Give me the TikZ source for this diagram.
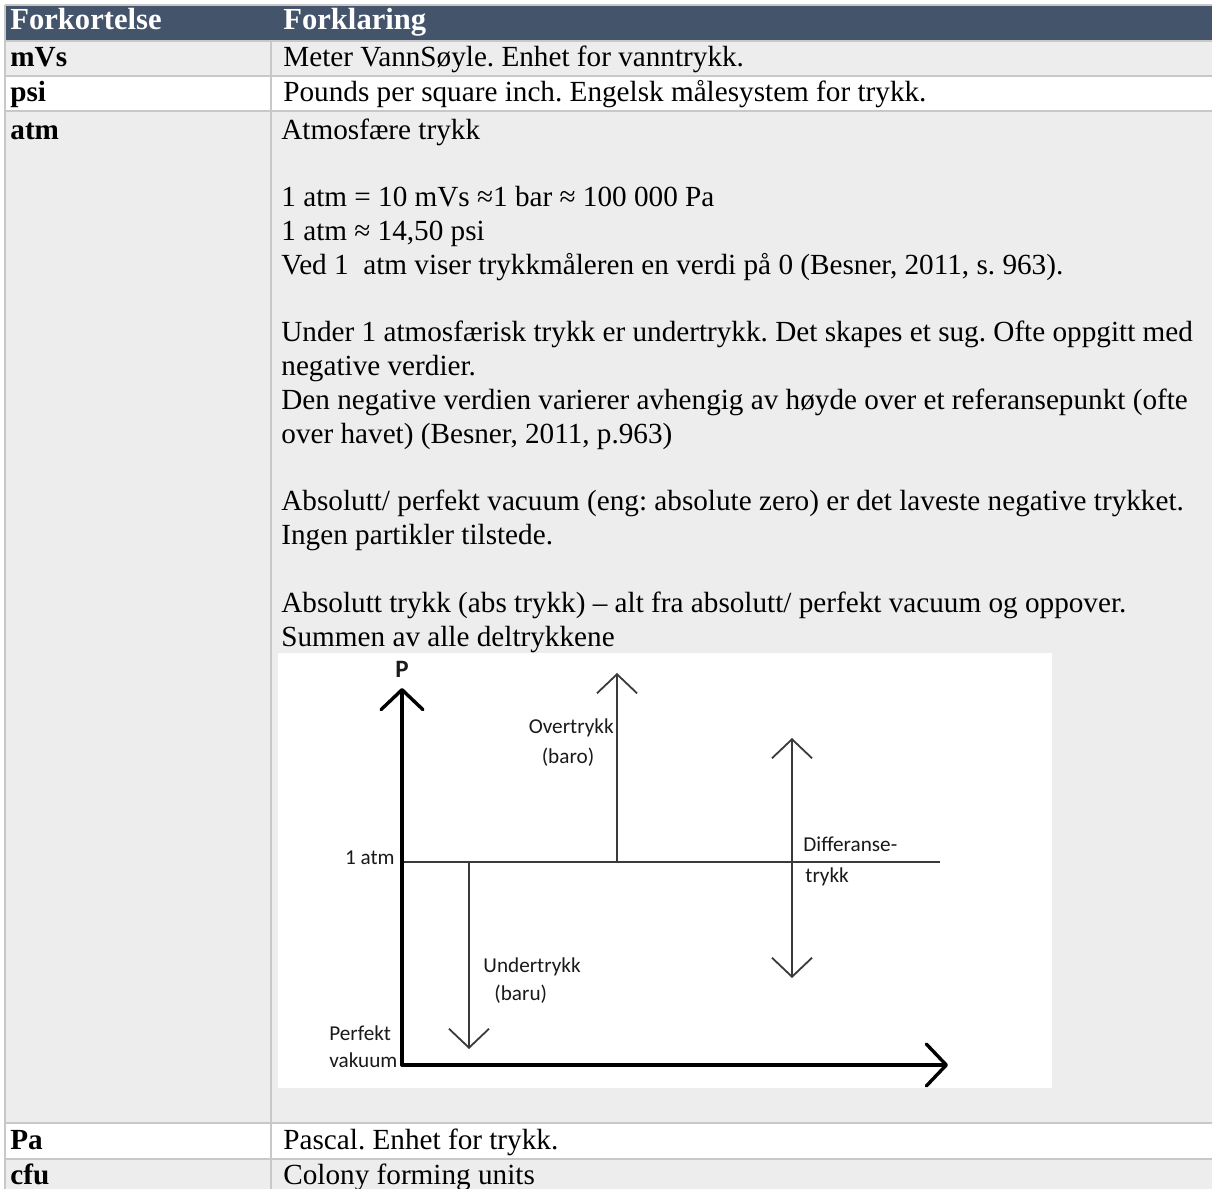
\documentclass[tikz,border=0pt]{standalone}
\usepackage{fontspec}
\setmainfont{Liberation Serif}
\newfontfamily\figfont{Carlito}
\usetikzlibrary{arrows.meta}
\definecolor{hodeblaa}{HTML}{44546A}
\definecolor{radgraa}{HTML}{EDEDED}
\definecolor{linjegraa}{HTML}{C8C8C8}
\definecolor{strek}{HTML}{3A3A3A}
\definecolor{figtekst}{HTML}{1A1A1A}
\frenchspacing
\begin{document}
\begin{tikzpicture}[x=0.5pt,y=-0.5pt]
% Stiler
\tikzstyle{rutenett}=[draw=linjegraa,line width=1pt]
\tikzstyle{hodetekst}=[anchor=base west,inner sep=0,text=white,font=\fontsize{15.3}{17.6}\selectfont\bfseries]
\tikzstyle{forkortelse}=[anchor=base west,inner sep=0,font=\fontsize{14.6}{16.8}\selectfont\bfseries]
\tikzstyle{tekst}=[anchor=base west,inner sep=0,font=\fontsize{14.6}{16.8}\selectfont]
\tikzstyle{figur}=[inner sep=0,text=figtekst,font=\figfont\fontsize{10.6}{13}\selectfont]
\tikzstyle{akse}=[line width=1.7pt,line cap=round,line join=round,-{Straight Barb[length=10pt,width=21pt,round]}]
\tikzstyle{pil}=[strek,line width=0.9pt,-{Straight Barb[length=9.5pt,width=20pt]}]
\tikzstyle{dobbelpil}=[strek,line width=0.9pt,{Straight Barb[length=9.5pt,width=20pt]}-{Straight Barb[length=9.5pt,width=20pt]}]
% Mål (i piksler)
\def\venstre{5}
\def\skille{271}
\def\hoyre{1212}
\def\tx{281}
\def\lin{33.8}
\useasboundingbox (0,0) rectangle (1212,1189);
% Rader
\fill[white] (0,0) rectangle (1212,1189);
\fill[hodeblaa] (\venstre,5) rectangle (\hoyre,41);
\fill[radgraa] (\venstre,41) rectangle (\hoyre,76);
\fill[radgraa] (\venstre,111) rectangle (\hoyre,1123);
\fill[radgraa] (\venstre,1159) rectangle (\hoyre,1189);
% Rutenett
\draw[rutenett] (\venstre,5) -- (\hoyre,5);
\draw[rutenett] (\venstre,41) -- (\hoyre,41);
\draw[rutenett] (\venstre,76) -- (\hoyre,76);
\draw[rutenett] (\venstre,111) -- (\hoyre,111);
\draw[rutenett] (\venstre,1123) -- (\hoyre,1123);
\draw[rutenett] (\venstre,1159) -- (\hoyre,1159);
\draw[rutenett] (\venstre,5) -- (\venstre,1189);
\draw[rutenett] (\skille,41) -- (\skille,1189);
% Overskrift
\node[hodetekst] (hForkortelse) at (10,29) {Forkortelse};
\node[hodetekst] (hForklaring) at (283,29) {Forklaring};
% Korte rader
\node[forkortelse] (kmVs) at (10,66) {mVs};
\node[tekst] (tmVs) at (283,66) {Meter VannSøyle. Enhet for vanntrykk.};
\node[forkortelse] (kpsi) at (10,101) {psi};
\node[tekst] (tpsi) at (283,101) {Pounds per square inch. Engelsk målesystem for trykk.};
\node[forkortelse] (katm) at (10,139) {atm};
\node[forkortelse] (kPa) at (10,1149) {Pa};
\node[tekst] (tPa) at (283,1149) {Pascal. Enhet for trykk.};
\node[forkortelse] (kcfu) at (10,1184) {cfu};
\node[tekst] (tcfu) at (283,1184) {Colony forming units};
% Atm-cellen
\node[tekst] (a1) at (\tx,139) {Atmosfære trykk};
\node[tekst] (a3) at (\tx,{139+2*\lin}) {1 atm = 10 mVs ≈1 bar ≈ 100 000 Pa};
\node[tekst] (a4) at (\tx,{139+3*\lin}) {1 atm ≈ 14,50 psi};
\node[tekst] (a5) at (\tx,{139+4*\lin}) {Ved 1\ \ atm viser trykkmåleren en verdi på 0 (Besner, 2011, s. 963).};
\node[tekst] (a7) at (\tx,{139+6*\lin}) {Under 1 atmosfærisk trykk er undertrykk. Det skapes et sug. Ofte oppgitt med};
\node[tekst] (a8) at (\tx,{139+7*\lin}) {negative verdier.};
\node[tekst] (a9) at (\tx,{139+8*\lin}) {Den negative verdien varierer avhengig av høyde over et referansepunkt (ofte};
\node[tekst] (a10) at (\tx,{139+9*\lin}) {over havet) (Besner, 2011, p.963)};
\node[tekst] (a12) at (\tx,{139+11*\lin}) {Absolutt/ perfekt vacuum (eng: absolute zero) er det laveste negative trykket.};
\node[tekst] (a13) at (\tx,{139+12*\lin}) {Ingen partikler tilstede.};
\node[tekst] (a15) at (\tx,{139+14*\lin}) {Absolutt trykk (abs trykk) – alt fra absolutt/ perfekt vacuum og oppover.};
\node[tekst] (a16) at (\tx,{139+15*\lin}) {Summen av alle deltrykkene};
% Figur
\fill[white] (278,653) rectangle (1052,1088);
\coordinate (O) at (402,1065);
\coordinate (Ptopp) at (402,688);
\coordinate (Xende) at (948,1065);
\coordinate (atmV) at (402,862);
\coordinate (atmH) at (940,862);
\coordinate (overFot) at (617,862);
\coordinate (overTopp) at (617,673);
\coordinate (underFot) at (469,862);
\coordinate (underBunn) at (469,1049);
\coordinate (diffTopp) at (792,738);
\coordinate (diffBunn) at (792,978);
\draw[strek,line width=0.9pt] (atmV) -- (atmH);
\draw[pil] (overFot) -- (overTopp);
\draw[pil] (underFot) -- (underBunn);
\draw[dobbelpil] (diffBunn) -- (diffTopp);
\draw[akse] (O) -- (Ptopp);
\draw[akse] (O) -- (Xende);
\node[figur,font=\figfont\fontsize{12.5}{14}\selectfont\bfseries] (P) at (402,669) {P};
\node[figur,anchor=east] (enAtm) at (395,858) {1 atm};
\node[figur,anchor=east] (over1) at (614,728) {Overtrykk};
\node[figur] (over2) at (568,757) {(baro)};
\node[figur,anchor=west] (under1) at (483,967) {Undertrykk};
\node[figur,anchor=west] (under2) at (494,994) {(baru)};
\node[figur,anchor=west] (diff1) at (803,844) {Differanse-};
\node[figur,anchor=west] (diff2) at (805,877) {trykk};
\node[figur,anchor=west] (perf1) at (329,1033) {Perfekt};
\node[figur,anchor=west] (perf2) at (329,1060) {vakuum};
\end{tikzpicture}
\end{document}
